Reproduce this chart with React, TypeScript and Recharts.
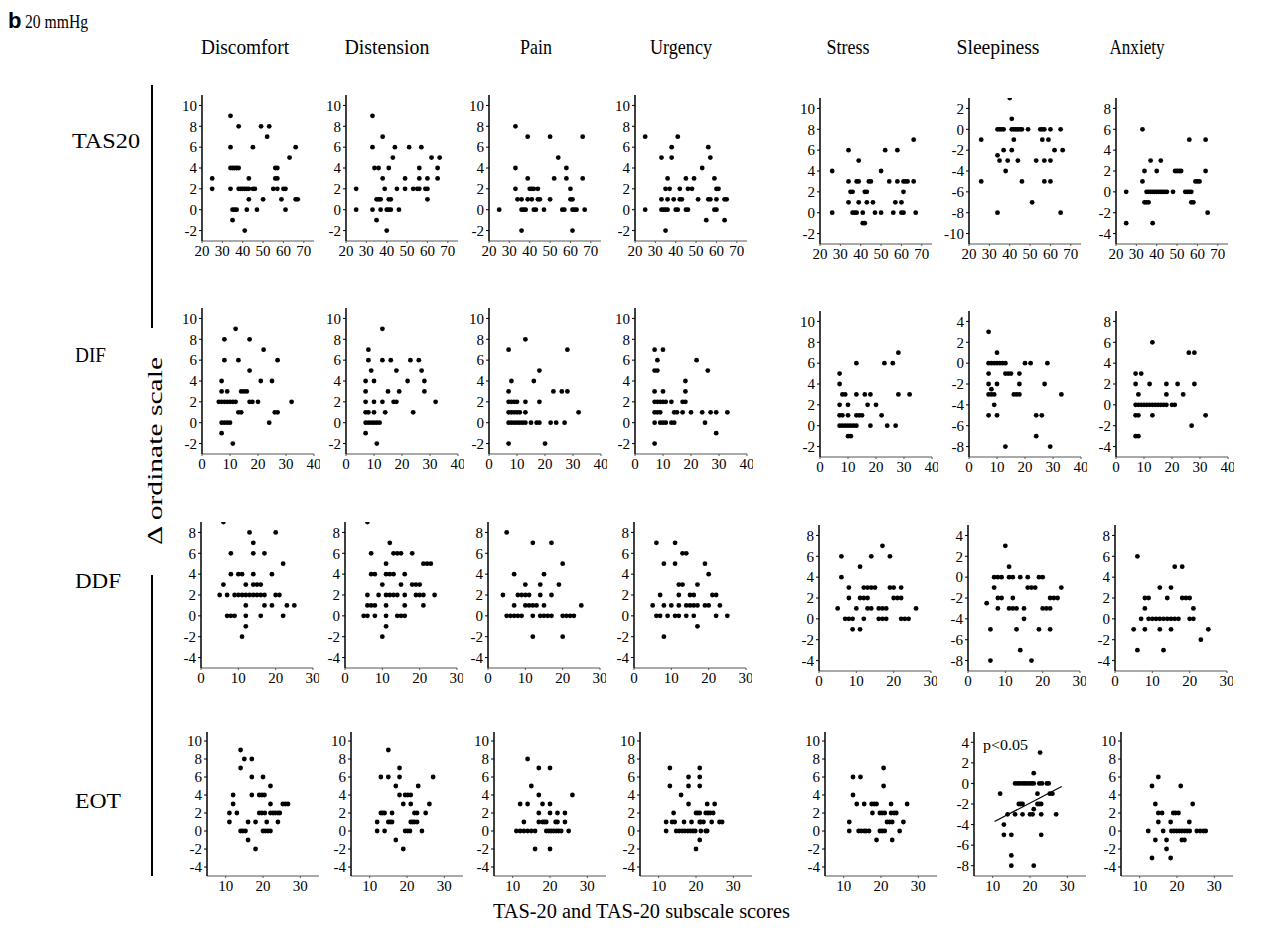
import { ScatterChart, Scatter, XAxis, YAxis, ReferenceLine } from "recharts";

const FONT = '"Liberation Serif", "Times New Roman", serif';

const columns = ["Discomfort", "Distension", "Pain", "Urgency", "Stress", "Sleepiness", "Anxiety"];
const rowNames = ["TAS20", "DIF", "DDF", "EOT"];

// tick labels
const xTicksTAS20 = [20, 30, 40, 50, 60, 70];
const xTicksDIF = [0, 10, 20, 30, 40];
const xTicksDDF = [0, 10, 20, 30];
const xTicksEOT = [10, 20, 30];
const yTicksUp = [-2, 0, 2, 4, 6, 8, 10];
const yTicksMid = [-4, -2, 0, 2, 4, 6, 8];
const yTicksWide = [-4, -2, 0, 2, 4, 6, 8, 10];
const yTicksSleepTAS = [-10, -8, -6, -4, -2, 0, 2];
const yTicksSleep = [-8, -6, -4, -2, 0, 2, 4];

// TAS20 row
const tasDiscomfort = [[25,3],[25,2],[34,9],[34,6],[34,2],[34,4],[35,4],[36,4],[37,4],[38,4],[38,8],[35,0],[36,0],[37,0],[35,-1],[38,2],[39,2],[40,2],[41,2],[42,2],[43,2],[41,-2],[42,0],[43,1],[43,3],[45,6],[45,2],[46,2],[47,0],[49,8],[53,8],[50,1],[52,7],[55,2],[56,4],[57,4],[56,3],[57,3],[57,2],[59,1],[60,2],[61,2],[61,0],[63,5],[66,6],[66,1],[67,1]];
const tasDistension = [[25,2],[25,0],[33,9],[33,6],[33,0],[34,4],[36,4],[38,7],[35,1],[36,1],[37,1],[35,-1],[38,3],[37,0],[39,2],[41,4],[40,-2],[40,0],[41,0],[42,0],[41,1],[42,1],[43,5],[44,6],[45,2],[46,0],[49,3],[49,2],[51,6],[53,2],[55,2],[56,2],[56,4],[56,3],[57,6],[59,2],[60,2],[60,3],[60,1],[62,5],[66,5],[65,4],[65,3]];
const tasPain = [[25,0],[33,8],[33,4],[33,2],[34,1],[36,1],[36,-2],[36,0],[37,0],[38,0],[39,7],[39,3],[39,1],[40,2],[41,2],[42,2],[41,1],[42,0],[43,0],[44,2],[44,1],[45,1],[47,0],[50,7],[50,1],[52,3],[54,5],[56,0],[57,0],[58,4],[58,3],[60,2],[60,1],[61,1],[61,-2],[61,0],[62,0],[63,0],[66,7],[66,3],[67,0]];
const tasUrgency = [[25,7],[25,0],[33,5],[33,1],[33,0],[34,0],[35,0],[36,0],[35,-2],[36,3],[35,2],[37,2],[36,1],[38,6],[38,5],[39,1],[40,0],[41,0],[41,7],[42,2],[42,1],[43,1],[45,0],[46,0],[45,3],[46,2],[48,2],[49,3],[51,1],[53,4],[55,-1],[56,6],[57,5],[56,1],[57,1],[59,3],[60,2],[61,2],[60,1],[59,0],[60,0],[64,-1],[64,1],[65,1]];
const tasStress = [[26,4],[26,0],[34,6],[34,3],[34,1],[35,2],[36,2],[36,0],[37,0],[38,0],[38,3],[39,3],[39,5],[39,1],[41,0],[41,-1],[42,-1],[42,2],[43,2],[43,1],[44,3],[45,3],[46,1],[47,0],[50,0],[50,4],[52,6],[54,3],[56,0],[57,1],[58,6],[58,3],[60,1],[60,0],[61,0],[61,2],[61,3],[62,3],[63,3],[66,7],[66,3],[67,0]];
const tasSleepiness = [[26,-1],[26,-5],[34,0],[35,0],[36,0],[37,0],[34,-2.5],[35,-3],[34,-8],[37,-2],[38,-4],[39,-3],[40,3],[41,0],[42,0],[43,0],[44,0],[45,0],[46,0],[41,1],[41,-2],[42,-1],[44,-3],[46,-5],[49,0],[51,-7],[53,-3],[55,0],[56,0],[57,0],[56,-1],[57,-3],[57,-5],[59,-1],[60,0],[60,-3],[60,-5],[62,-2],[65,0],[65,-8],[66,-2]];
const tasAnxiety = [[25,0],[25,-3],[33,6],[33,1],[34,-1],[35,-1],[36,-1],[34,2],[35,0],[36,0],[37,0],[38,0],[39,0],[40,0],[41,0],[42,0],[43,0],[44,0],[45,0],[37,3],[38,-3],[40,2],[42,3],[48,0],[49,2],[50,2],[51,2],[52,2],[54,0],[55,0],[56,0],[57,0],[56,5],[57,-1],[58,-1],[59,1],[60,1],[61,1],[64,5],[64,2],[65,-2]];

// DIF row
const difDiscomfort = [[7,4],[7,3],[9,3],[6,2],[7,2],[8,2],[9,2],[10,2],[11,2],[12,2],[7,0],[8,0],[9,0],[10,0],[7,-1],[8,8],[8,6],[11,-2],[12,9],[13,6],[13,1],[14,1],[14,3],[15,3],[16,3],[17,8],[17,5],[17,2],[18,2],[20,2],[21,4],[22,7],[24,0],[25,4],[26,1],[27,1],[27,6],[32,2]];
const difDistension = [[7,4],[7,3],[7,2],[7,1],[8,1],[7,0],[8,0],[9,0],[10,0],[11,0],[12,0],[7,-1],[8,7],[8,6],[9,5],[10,4],[10,2],[10,1],[11,-2],[13,9],[13,6],[13,2],[14,1],[15,3],[16,6],[17,2],[18,2],[18,5],[19,3],[22,4],[23,6],[24,1],[26,6],[27,5],[28,4],[28,3],[32,2]];
const difPain = [[7,7],[7,3],[8,4],[7,2],[8,2],[9,2],[10,2],[13,2],[7,1],[8,1],[9,1],[10,1],[11,1],[13,1],[7,0],[8,0],[9,0],[10,0],[11,0],[12,0],[13,0],[15,0],[17,0],[18,0],[7,-2],[13,8],[16,4],[18,5],[18,2],[20,-2],[22,0],[24,0],[23,3],[26,3],[28,3],[27,0],[28,7],[32,1]];
const difUrgency = [[7,7],[10,7],[8,6],[7,5],[8,5],[7,3],[10,3],[7,2],[8,2],[9,2],[10,2],[11,2],[13,2],[7,1],[8,1],[9,1],[14,1],[15,1],[17,1],[7,0],[9,0],[10,0],[11,0],[13,0],[14,0],[7,-2],[18,4],[18,3],[17,2],[18,2],[20,1],[22,6],[24,1],[25,0],[26,5],[27,1],[29,1],[29,-1],[33,1]];
const difStress = [[7,5],[7,4],[7,2],[7,1],[8,1],[7,0],[8,0],[9,0],[10,0],[11,0],[12,0],[13,0],[8,3],[9,3],[10,2],[10,1],[10,-1],[11,-1],[13,6],[13,3],[13,1],[14,1],[15,1],[16,3],[18,3],[17,2],[18,0],[20,2],[22,1],[23,6],[24,0],[26,6],[27,0],[28,7],[28,3],[32,3]];
const difSleepiness = [[7,3],[7,0],[8,0],[9,0],[10,0],[11,0],[12,0],[13,0],[10,1],[7,-1],[7,-2],[7,-3],[8,-3],[9,-3],[8,-2.5],[9,-4],[7,-5],[10,-5],[10,-2],[13,-8],[13,-1],[14,-1],[15,-1],[16,-3],[17,-3],[18,-3],[18,-1],[18,-2],[20,0],[22,0],[24,-7],[24,-5],[26,-5],[27,-2],[28,0],[29,-8],[33,-3]];
const difAnxiety = [[7,3],[9,3],[7,2],[8,1],[7,0],[8,0],[9,0],[10,0],[11,0],[12,0],[13,0],[14,0],[15,0],[16,0],[17,0],[18,0],[20,0],[21,0],[7,-1],[8,-1],[7,-3],[8,-3],[12,2],[13,6],[13,-1],[18,2],[18,1],[22,2],[24,1],[26,5],[28,5],[27,-2],[28,2],[32,-1]];

// DDF row
const ddfDiscomfort = [[6,9],[6,3],[5,2],[7,2],[8,6],[8,4],[7,0],[8,0],[9,0],[9,2],[10,2],[11,2],[12,2],[13,2],[10,4],[11,4],[12,3],[12,1],[12,0],[12,-1],[11,-2],[13,8],[14,7],[14,6],[14,4],[14,3],[15,3],[16,3],[14,2],[15,2],[16,2],[17,2],[16,0],[17,6],[17,1],[19,4],[19,1],[20,8],[20,2],[21,2],[22,5],[22,0],[23,1],[25,1]];
const ddfDistension = [[6,9],[5,0],[6,2],[6,1],[7,1],[8,1],[6,0],[7,6],[7,4],[8,0],[9,2],[10,3],[10,-2],[11,5],[8,4],[11,4],[12,4],[11,2],[12,2],[13,2],[11,1],[11,0],[11,-1],[12,7],[13,4],[13,6],[14,6],[15,6],[14,2],[14,0],[15,0],[16,0],[15,3],[16,4],[16,2],[16,1],[18,6],[18,3],[19,3],[20,3],[19,2],[20,2],[21,2],[21,5],[22,5],[23,5],[21,1],[24,2]];
const ddfPain = [[5,8],[4,2],[5,0],[6,0],[7,0],[8,0],[9,0],[7,4],[7,1],[8,2],[9,2],[10,2],[11,2],[10,3],[10,1],[11,1],[12,1],[13,1],[12,0],[12,-2],[12,7],[14,3],[14,2],[14,0],[15,0],[16,0],[17,0],[15,4],[15,1],[17,7],[17,2],[19,3],[20,5],[20,-2],[20,0],[21,0],[22,0],[23,0],[25,1]];
const ddfUrgency = [[5,1],[6,7],[6,0],[7,0],[7,2],[8,5],[8,1],[8,-2],[9,0],[10,1],[11,7],[11,5],[11,0],[12,0],[12,1],[12,2],[12,3],[13,3],[13,6],[14,6],[14,0],[14,1],[15,1],[16,1],[17,1],[15,2],[16,2],[16,0],[17,3],[17,-1],[19,1],[20,1],[19,5],[20,4],[21,2],[22,2],[22,0],[23,1],[25,0]];
const ddfStress = [[5,1],[6,6],[6,4],[7,0],[8,0],[9,0],[8,3],[8,2],[9,-1],[10,1],[11,5],[11,2],[12,2],[13,2],[11,-1],[12,0],[12,3],[13,3],[14,3],[15,3],[13,1],[14,1],[14,6],[16,1],[17,1],[18,1],[16,0],[17,0],[18,0],[17,7],[19,6],[19,3],[20,3],[20,2],[21,2],[22,2],[22,3],[22,0],[23,0],[24,0],[26,1]];
const ddfSleepiness = [[5,-2.5],[6,-5],[6,-8],[7,-1],[7,0],[8,0],[9,0],[8,-3],[8,-2],[9,-2],[10,3],[11,1],[11,0],[12,0],[12,-2],[11,-3],[12,-3],[13,-3],[13,-5],[14,0],[14,-7],[15,-3],[15,-4],[16,0],[16,-1],[17,-1],[18,-1],[17,-8],[19,0],[20,0],[19,-5],[20,-3],[21,-3],[22,-3],[22,-5],[22,-2],[23,-2],[24,-2],[25,-1]];
const ddfAnxiety = [[5,-1],[6,6],[6,-3],[7,0],[8,1],[8,-1],[8,2],[9,2],[9,0],[10,0],[11,0],[12,0],[13,0],[14,0],[15,0],[12,3],[12,-1],[13,-3],[14,2],[15,3],[15,-1],[16,0],[17,0],[16,5],[18,5],[18,2],[19,2],[20,2],[20,0],[21,0],[21,1],[23,-2],[25,-1]];

// EOT row
const eotDiscomfort = [[11,2],[11,1],[12,4],[12,3],[13,2],[14,9],[14,7],[14,0],[14.6,0],[15.3,0],[15,8],[16,1],[16,-1],[17,8],[17,6],[17,4],[18,1],[18,-2],[19,4],[19.7,4],[20.4,4],[19,2],[19.7,2],[20.5,2],[20,6],[20,0],[20.6,0],[21.3,0],[22,0],[21,1],[22,5],[22,3],[22,2],[22.7,2],[23.3,2],[24,2],[24.5,2],[24,1],[25.3,3],[26,3],[26.7,3]];
const eotDistension = [[12,1],[12,0],[13,6],[15,6],[15,9],[13,2],[13.5,2],[14,2],[14,0],[15,1],[15.5,1],[16,1],[16,2],[17,5],[17,-1],[18,7],[18,6],[18,4],[19,3],[19,-2],[19.5,4],[20.2,4],[21,4],[19.5,0],[20.2,0],[20.8,0],[21,1],[21.5,1],[21,3],[22,2],[22.7,2],[22,1],[22.7,1],[23,5],[24,0],[25,2],[26,3],[27,6]];
const eotPain = [[11,0],[12,0],[13,0],[14,0],[15,0],[16,0],[13,1],[12,3],[14,3],[14,8],[15,5],[16,-2],[17,7],[17,4],[17,2],[17,1],[18,1],[18.5,1],[19,1],[18,3],[19,0],[19.7,0],[20.3,0],[21,0],[21.7,0],[22.3,0],[23,0],[20,7],[20,2],[20,3],[20,-2],[21.5,1],[22,1],[22,2],[24,2],[24,1],[25,0],[26,4]];
const eotUrgency = [[13,7],[21,7],[18,6],[21,6],[13,5],[18,5],[21,5],[16,4],[18,3],[23,3],[25,3],[14,2],[20,2],[20.5,2],[21,2],[22.6,2],[23.2,2],[23.8,2],[24.6,2],[12,1],[13.6,1],[14.3,1],[16.8,1],[18.8,1],[21,1],[21.3,1],[22,1],[24.2,1],[26.3,1],[27,1],[12,0],[14.7,0],[15.5,0],[16.3,0],[17,0],[17.8,0],[18.5,0],[19.2,0],[19.8,0],[21.3,0],[22.6,0],[23,0],[21,-1],[20,-2]];
const eotStress = [[11.5,1],[11.5,0],[12.5,6],[14.5,6],[12.5,4],[13.5,3],[14,0],[14.7,0],[15.5,0],[16,0],[16.8,0],[15.5,3],[17.5,3],[18.2,3],[18.8,3],[17.7,2],[18.8,-1],[19.7,2],[20.3,2],[21,2],[19.7,0],[20.3,0],[21,0],[20.7,7],[20.7,5],[21.6,1],[22.3,1],[23,1],[22.7,3],[22.7,2],[23.5,2],[24.1,2],[23,-1],[25,0],[26,1],[27,3]];
const eotSleepiness = [[12,-1],[13,-4],[13,-5],[14,-3],[15,-5],[15,-7],[15,-8],[16,-3],[16,0],[16.7,0],[17.3,0],[18,0],[18.6,0],[19.2,0],[19.9,0],[20.5,0],[21,0],[17,-2],[17.5,-2],[18,-2],[18,-3],[20,-3],[20.7,-3],[21,1],[21,-2.5],[21,-8],[22,-1],[22,-2],[22.5,-2],[23,-2],[22.5,0],[23.2,0],[22.7,3],[23,-3],[23,-5],[24.5,0],[25,0],[25.3,-1],[26,-1],[27,-3]];
const eotAnxiety = [[12.3,0],[13.3,5],[13.3,-3],[14.2,3],[14.2,-1],[15,6],[15,2],[16,2],[15,1],[16.3,0],[17.2,-1],[17.2,-2],[18.3,-3],[18.3,1],[19,2],[19.6,2],[20.4,2],[18.5,0],[19.2,0],[19.9,0],[20.6,0],[21.3,0],[22,0],[22.7,0],[23.4,0],[21,5],[21.3,-1],[22,-1],[23.3,1],[24.2,3],[25.3,0],[26.2,0],[27.1,0],[27.7,0]];

// fitted line, EOT vs sleepiness (p<0.05)
const eotSleepFit = [{ x: 10.5, y: -3.7 }, { x: 28.5, y: -0.3 }];

const grid = [
  [tasDiscomfort, tasDistension, tasPain, tasUrgency, tasStress, tasSleepiness, tasAnxiety],
  [difDiscomfort, difDistension, difPain, difUrgency, difStress, difSleepiness, difAnxiety],
  [ddfDiscomfort, ddfDistension, ddfPain, ddfUrgency, ddfStress, ddfSleepiness, ddfAnxiety],
  [eotDiscomfort, eotDistension, eotPain, eotUrgency, eotStress, eotSleepiness, eotAnxiety],
];

const rowX = [
  { domain: [20, 75], ticks: xTicksTAS20 },
  { domain: [0, 40], ticks: xTicksDIF },
  { domain: [0, 30], ticks: xTicksDDF },
  { domain: [5, 35], ticks: xTicksEOT },
];

function yScale(row: number, col: number) {
  if (col === 5) {
    if (row === 0) return { domain: [-11, 3], ticks: yTicksSleepTAS };
    return { domain: [-9, 5], ticks: yTicksSleep };
  }
  if (col === 6) {
    if (row === 3) return { domain: [-5, 11], ticks: yTicksWide };
    return { domain: [-5, 9], ticks: yTicksMid };
  }
  if (row === 2) return { domain: [-5, 9], ticks: yTicksMid };
  if (row === 3) return { domain: [-5, 11], ticks: yTicksWide };
  return { domain: [-3, 11], ticks: yTicksUp };
}

// layout
const AXIS_W = 28;
const PLOT_W = 112;
const ROW_TOP = [95, 308, 522, 732];
const PLOT_H = [146, 146, 146, 144];
const COL_LEFT = [202, 346, 489, 635, 820, 969, 1116];
const ROW_DX = [0, 0, -1, 5];

const tickStyle = { fill: "#000", fontSize: 15 };

const dot = (props: any) => (
  <circle cx={props.cx} cy={props.cy} r={2.4} fill="#000" />
);

function Panel({ row, col }: { row: number; col: number }) {
  const data = grid[row][col].map(([x, y]) => ({ x, y }));
  const ys = yScale(row, col);
  const left = COL_LEFT[col] + ROW_DX[row];
  const top = ROW_TOP[row] + (col >= 4 && row < 3 ? 3 : 0);
  const h = PLOT_H[row];
  return (
    <div style={{ position: "absolute", left: left - AXIS_W, top }}>
      <ScatterChart
        width={AXIS_W + PLOT_W + 6}
        height={h + 22}
        margin={{ top: 0, right: 6, bottom: 0, left: 0 }}
      >
        <XAxis
          type="number"
          dataKey="x"
          domain={rowX[row].domain}
          ticks={rowX[row].ticks}
          interval={0}
          height={22}
          tickSize={2}
          allowDataOverflow
          axisLine={{ stroke: "#555" }}
          tickLine={{ stroke: "#555" }}
          tick={tickStyle}
        />
        <YAxis
          type="number"
          dataKey="y"
          domain={ys.domain}
          ticks={ys.ticks}
          interval={0}
          width={AXIS_W}
          tickSize={3}
          allowDataOverflow
          axisLine={{ stroke: "#000", strokeWidth: 1.5 }}
          tickLine={{ stroke: "#000" }}
          tick={tickStyle}
        />
        <Scatter data={data} isAnimationActive={false} shape={dot} />
        {row === 3 && col === 5 && (
          <ReferenceLine
            segment={eotSleepFit}
            stroke="#000"
            strokeWidth={1.2}
            ifOverflow="visible"
          />
        )}
      </ScatterChart>
    </div>
  );
}

const titlePos = [
  [245, 88], [387, 85], [536, 32], [681, 62], [848, 43], [998, 83], [1137, 55],
];
const rowLabelPos = [
  [72, 148, 68], [75, 362, 31], [75, 588, 46], [75, 808, 46],
];

export default function App() {
  return (
    <div
      style={{
        position: "absolute",
        left: 0,
        top: 0,
        width: 1268,
        height: 938,
        background: "#fff",
        fontFamily: FONT,
        overflow: "hidden",
      }}
    >
      <style>{`.recharts-text, .recharts-cartesian-axis-tick-value { font-family: ${FONT}; }`}</style>
      <svg width={1268} height={938} style={{ position: "absolute", left: 0, top: 0 }}>
        <text x={8} y={28} fontFamily='"Liberation Sans", Arial, sans-serif' fontWeight="bold" fontSize={22}>
          b
        </text>
        <text x={25} y={28} fontFamily={FONT} fontSize={18} textLength={63} lengthAdjust="spacingAndGlyphs">
          20 mmHg
        </text>
        {columns.map((c, i) => (
          <text
            key={c}
            x={titlePos[i][0] - titlePos[i][1] / 2}
            y={54}
            fontFamily={FONT}
            fontSize={21}
            textLength={titlePos[i][1]}
            lengthAdjust="spacingAndGlyphs"
          >
            {c}
          </text>
        ))}
        {rowNames.map((r, i) => (
          <text
            key={r}
            x={rowLabelPos[i][0]}
            y={rowLabelPos[i][1]}
            fontFamily={FONT}
            fontSize={21}
            textLength={rowLabelPos[i][2]}
            lengthAdjust="spacingAndGlyphs"
          >
            {r}
          </text>
        ))}
        <line x1={152} y1={85} x2={152} y2={328} stroke="#000" strokeWidth={2} />
        <line x1={152} y1={575} x2={152} y2={876} stroke="#000" strokeWidth={2} />
        <text
          transform="translate(162,451) rotate(-90)"
          textAnchor="middle"
          fontFamily={FONT}
          fontSize={22}
          textLength={188}
          lengthAdjust="spacingAndGlyphs"
        >
          Δ ordinate scale
        </text>
        <text
          x={493}
          y={918}
          fontFamily={FONT}
          fontSize={20}
          textLength={297}
          lengthAdjust="spacingAndGlyphs"
        >
          TAS-20 and TAS-20 subscale scores
        </text>
        <text x={983} y={750} fontFamily={FONT} fontSize={15} textLength={45} lengthAdjust="spacingAndGlyphs">
          p&lt;0.05
        </text>
      </svg>
      {grid.map((r, ri) => r.map((_, ci) => <Panel key={`${ri}-${ci}`} row={ri} col={ci} />))}
    </div>
  );
}
